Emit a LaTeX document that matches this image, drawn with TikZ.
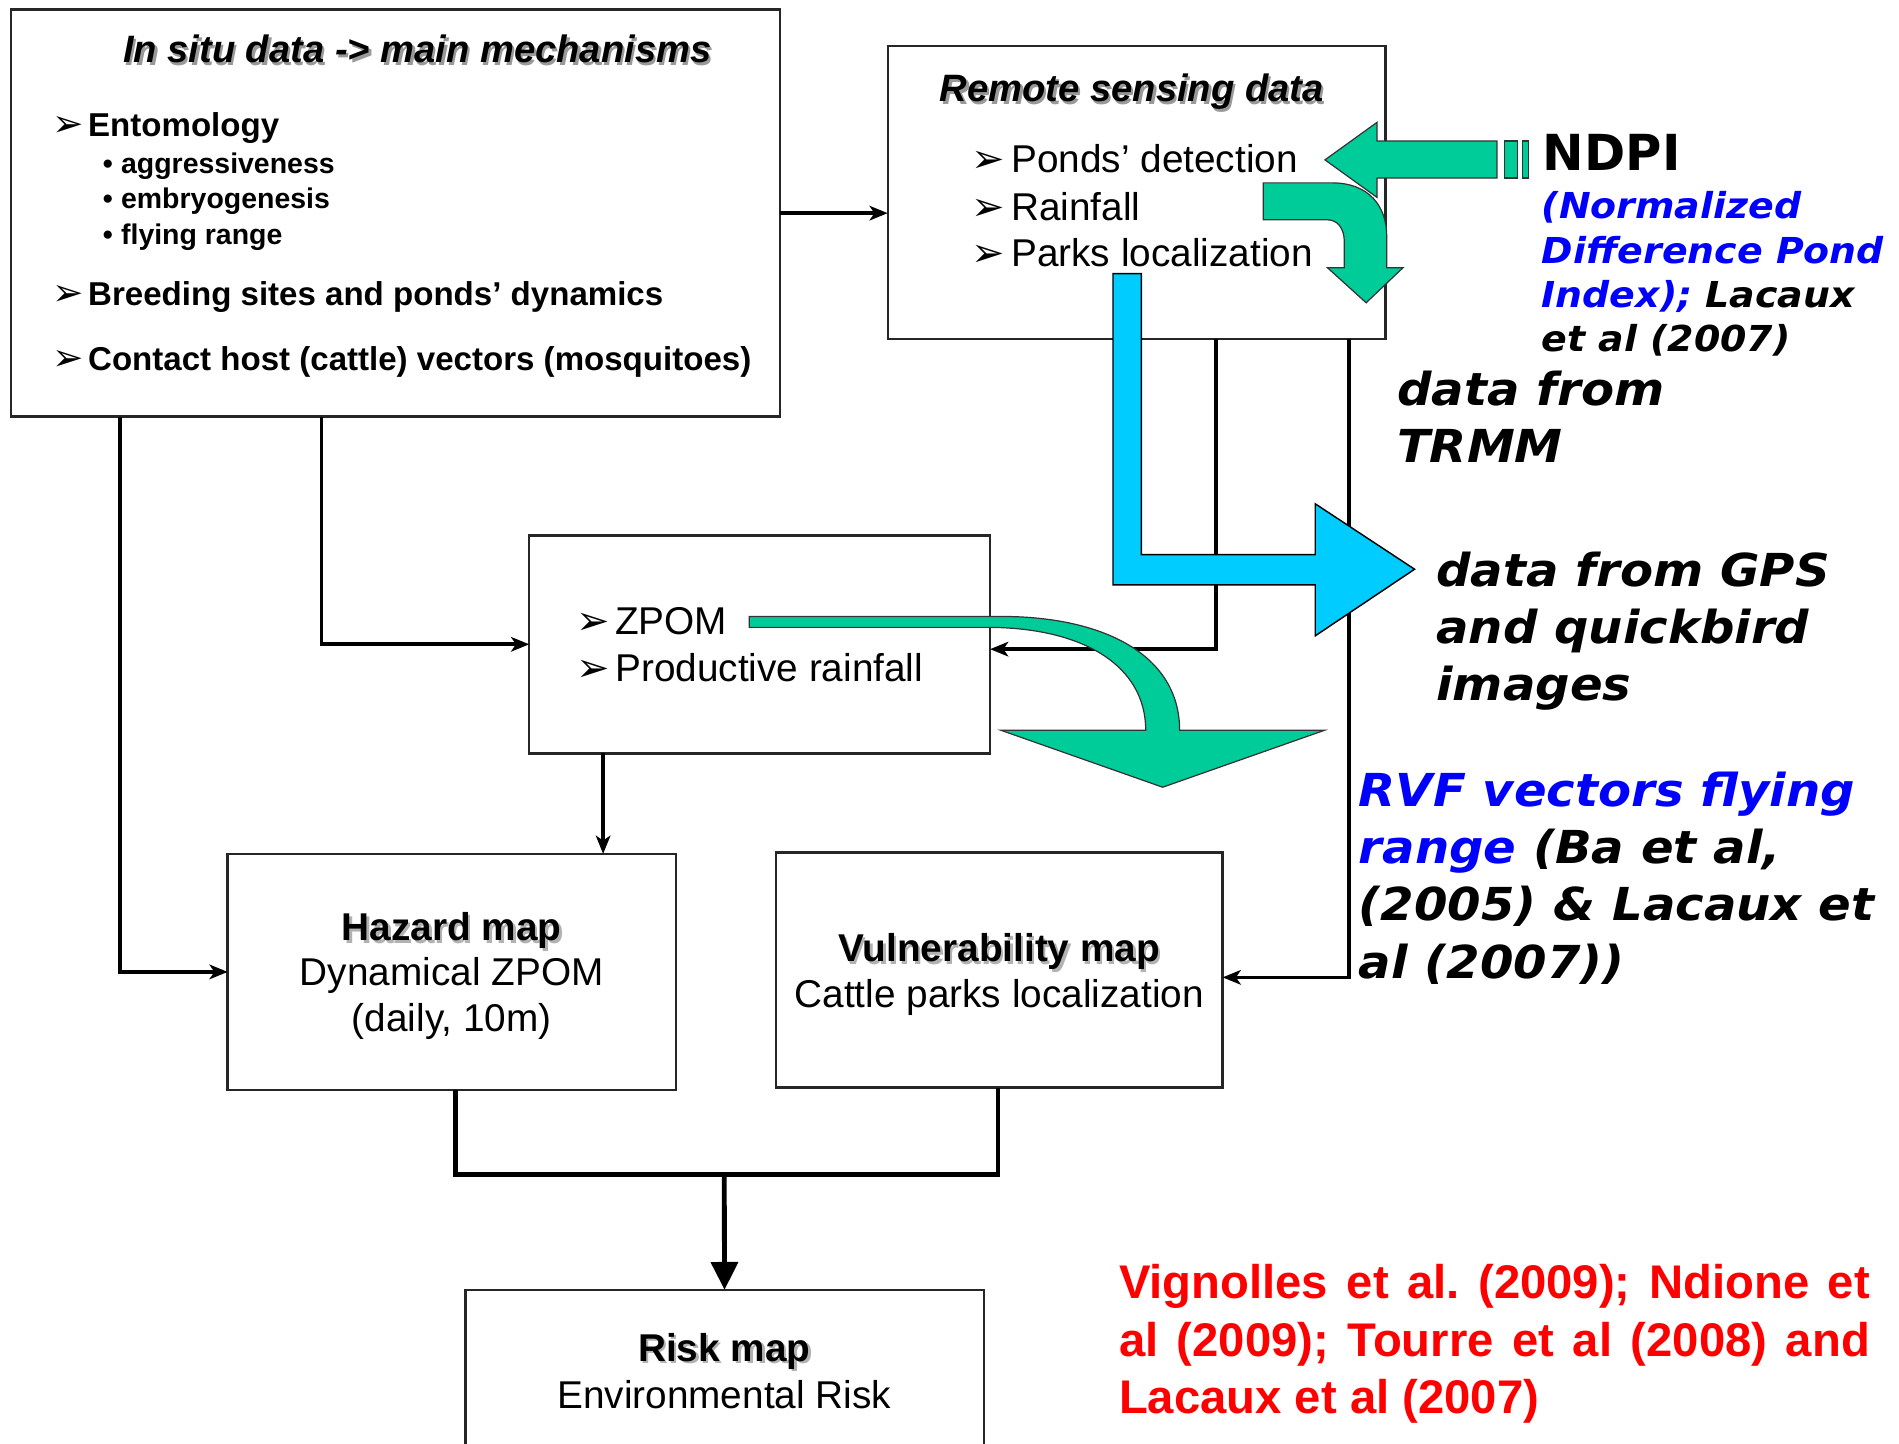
\documentclass[tikz,border=0pt]{standalone}
\usepackage{fontspec}
\setmainfont{Liberation Sans}
\newfontfamily\vfont{DejaVu Sans}[BoldFont={DejaVu Sans Bold},ItalicFont={DejaVu Sans Oblique},BoldItalicFont={DejaVu Sans Bold Oblique}]
\newfontfamily\wfont{DejaVu Sans}[FakeStretch=1.06,BoldFont={DejaVu Sans Bold},ItalicFont={DejaVu Sans Oblique},BoldItalicFont={DejaVu Sans Bold Oblique}]
\usetikzlibrary{arrows.meta}

\definecolor{sea}{RGB}{0,204,153}
\definecolor{sky}{RGB}{0,204,255}
\definecolor{refblue}{RGB}{0,0,255}
\definecolor{refred}{RGB}{255,0,0}
\newcommand\setfs[1]{\fontsize{#1pt}{#1pt}\selectfont}
\frenchspacing

\begin{document}
\begin{tikzpicture}[x=1pt,y=-1pt,
  box/.style={draw=black!85, line width=2pt, fill=white, inner sep=0pt, outer sep=0pt},
  conn/.style={line width=3pt, -{Stealth[length=15pt,width=12pt,inset=4pt]}},
  heavy/.style={line width=4pt},
  txt/.style={anchor=base west, inner sep=0pt, outer sep=0pt},
  ctxt/.style={anchor=base, inner sep=0pt, outer sep=0pt},
  shade/.style={text=black!40},
  titlef/.style={font={\bfseries\itshape\setfs{31.5}}},
  headf/.style={font={\bfseries\setfs{32}}},
  itemf/.style={font={\setfs{32}}},
  mainf/.style={font={\bfseries\setfs{27.3}}},
  subf/.style={font={\bfseries\setfs{23.5}}},
  tipf/.style={font={\vfont\setfs{31}}},
  bigtipf/.style={font={\vfont\setfs{33}}},
  notef/.style={font={\wfont\bfseries\itshape\setfs{37.5}}},
  smallnotef/.style={font={\wfont\bfseries\itshape\setfs{29.5}}},
  blockarrow/.style={draw=black!80, line width=1pt},
]
\useasboundingbox (0,0) rectangle (1568,1191.5);
\clip (0,0) rectangle (1568,1191.5);

% boxes
\node[box, minimum width=635pt, minimum height=336pt] (insitu) at (326.5,176) {};
\node[box, minimum width=411pt, minimum height=242pt] (rs) at (938.5,159) {};
\node[box, minimum width=380.5pt, minimum height=180pt] (zpom) at (627.25,532) {};
\node[box, minimum width=370pt, minimum height=195pt] (hazard) at (373,802.5) {};
\node[box, minimum width=369pt, minimum height=194pt] (vuln) at (825,801) {};
\node[box, minimum width=428pt, minimum height=150pt] (risk) at (598.25,1140) {};

% routing columns
\coordinate (xa) at (99,0);
\coordinate (xb) at (265.5,0);
\coordinate (xc) at (1004,0);
\coordinate (xd) at (1114,0);
\coordinate (xe) at (498,0);
\coordinate (xf) at (376,0);
\coordinate (xg) at (824,0);
\coordinate (jn) at (598,970);

% connectors
\draw[conn] (insitu.east) -- (insitu.east -| rs.west);
\draw[conn] (insitu.south -| xb) |- (zpom.west);
\draw[conn] (insitu.south -| xa) |- (hazard.west);
\draw[conn] (rs.south -| xc) |- ([yshift=-4pt]zpom.east);
\draw[conn] (rs.south -| xd) |- ([yshift=-6pt]vuln.east);
\draw[conn] (zpom.south -| xe) -- (hazard.north -| xe);
\draw[heavy] (hazard.south -| xf) |- (jn) -| (vuln.south -| xg);
\draw[heavy, -{Triangle[length=23pt,width=22pt]}] (jn) -- (risk.north);

% cyan bent arrow
\filldraw[fill=sky, draw=black, line width=1.2pt]
  (919,226) -- (942.5,226) -- (942.5,458) -- (1086,458) -- (1086,416)
  -- (1168,470) -- (1086,525) -- (1086,483) -- (919,483) -- cycle;

% green arrow towards ponds' detection, with striped tail
\filldraw[fill=sea, blockarrow] (1094,132) -- (1137,101) -- (1137,116.5) -- (1236,116.5)
  -- (1236,147) -- (1137,147) -- (1137,163) -- cycle;
\filldraw[fill=sea, blockarrow] (1242,116.5) rectangle (1253,147);
\filldraw[fill=sea, blockarrow] (1257,116.5) rectangle (1262,147);

% green curved arrow from rainfall
\filldraw[fill=sea, blockarrow] (1043,151) -- (1100,151)
  .. controls (1130,151) and (1145,170) .. (1145,195) -- (1145,221)
  -- (1158.5,221) -- (1128,250) -- (1096,221) -- (1110,221) -- (1110,200)
  .. controls (1110,188) and (1104,181.5) .. (1096,181.5) -- (1043,181.5) -- cycle;

% green curved arrow from ZPOM
\filldraw[fill=sea, blockarrow] (618.6,509) -- (827,509)
  .. controls (910,509) and (974,540) .. (974,603) -- (1093.6,603) -- (960,650)
  -- (826.5,603) -- (946,603)
  .. controls (946,550) and (895,518) .. (815,518) -- (618.6,518) -- cycle;

% in situ box text
\node[ctxt, titlef, shade] (t1s) at (346.5,54) {In situ data -> main mechanisms};
\node[ctxt, titlef] (t1) at (344.5,52) {In situ data -> main mechanisms};
\node[txt, tipf] (b11) at (43,113) {➢};
\node[txt, mainf] (i11) at (72.8,113) {Entomology};
\node[txt, subf] (d1) at (85,143) {•};
\node[txt, subf] (s1) at (100,143) {aggressiveness};
\node[txt, subf] (d2) at (85,172) {•};
\node[txt, subf] (s2) at (100,172) {embryogenesis};
\node[txt, subf] (d3) at (85,202) {•};
\node[txt, subf] (s3) at (100,202) {flying range};
\node[txt, tipf] (b12) at (43,252) {➢};
\node[txt, mainf] (i12) at (72.8,252) {Breeding sites and ponds’ dynamics};
\node[txt, tipf] (b13) at (43,305.6) {➢};
\node[txt, mainf] (i13) at (72.8,305.6) {Contact host (cattle) vectors (mosquitoes)};

% remote sensing box text
\node[txt, titlef, shade] (t2s) at (778,86) {Remote sensing data};
\node[txt, titlef] (t2) at (776,84) {Remote sensing data};
\node[txt, bigtipf] (b21) at (802,142.6) {➢};
\node[txt, itemf] (i21) at (835,142.6) {Ponds’ detection};
\node[txt, bigtipf] (b22) at (802,182) {➢};
\node[txt, itemf] (i22) at (835,182) {Rainfall};
\node[txt, bigtipf] (b23) at (802,220) {➢};
\node[txt, itemf] (i23) at (835,220) {Parks localization};

% ZPOM box text
\node[txt, bigtipf] (b31) at (476,524.3) {➢};
\node[txt, itemf] (i31) at (508,524.3) {ZPOM};
\node[txt, bigtipf] (b32) at (476,563) {➢};
\node[txt, itemf] (i32) at (508,563) {Productive rainfall};

% map boxes text
\node[ctxt, headf, text=black!30] (h1s) at (375,778.8) {Hazard map};
\node[ctxt, headf] (h1) at (373,776.8) {Hazard map};
\node[ctxt, itemf] (h2) at (373,814) {Dynamical ZPOM};
\node[ctxt, itemf] (h3) at (373,852) {(daily, 10m)};
\node[ctxt, headf, text=black!30] (v1s) at (827,796) {Vulnerability map};
\node[ctxt, headf] (v1) at (825,794) {Vulnerability map};
\node[ctxt, itemf] (v2) at (825,831.7) {Cattle parks localization};
\node[ctxt, headf, text=black!30] (r1s) at (600,1126) {Risk map};
\node[ctxt, headf] (r1) at (598,1124) {Risk map};
\node[ctxt, itemf] (r2) at (598,1163) {Environmental Risk};

% side notes
\node[txt, font={\vfont\bfseries\setfs{41}}] (ndpi) at (1274,141) {NDPI};
\node[txt, smallnotef, text=refblue] (n1) at (1273,180) {(Normalized};
\node[txt, smallnotef, text=refblue] (n2) at (1273,217.4) {Difference Pond};
\node[txt, smallnotef] (n3) at (1273,253.6) {\textcolor{refblue}{Index);} Lacaux};
\node[txt, smallnotef] (n4) at (1273,290.4) {et al (2007)};

\node[txt, notef] (m1) at (1153.6,335) {data from};
\node[txt, notef] (m2) at (1153.6,382) {TRMM};

\node[txt, notef] (g1) at (1186,484.4) {data from GPS};
\node[txt, notef] (g2) at (1186,531) {and quickbird};
\node[txt, notef] (g3) at (1186,578) {images};

\node[txt, notef] (f1) at (1122,666) {\textcolor{refblue}{RVF vectors flying}};
\node[txt, notef] (f2) at (1122,713) {\textcolor{refblue}{range} (Ba et al,};
\node[txt, notef] (f3) at (1122,760) {(2005) \& Lacaux et};
\node[txt, notef] (f4) at (1122,808) {al (2007))};

\node[txt, font={\bfseries\setfs{39}}, text=refred] (c1) at (924,1072) {\makebox[620pt][s]{Vignolles et al. (2009); Ndione et}};
\node[txt, font={\bfseries\setfs{39}}, text=refred] (c2) at (924,1120) {\makebox[620pt][s]{al (2009); Tourre et al (2008) and}};
\node[txt, font={\bfseries\setfs{39}}, text=refred] (c3) at (924,1167) {Lacaux et al (2007)};
\end{tikzpicture}
\end{document}
